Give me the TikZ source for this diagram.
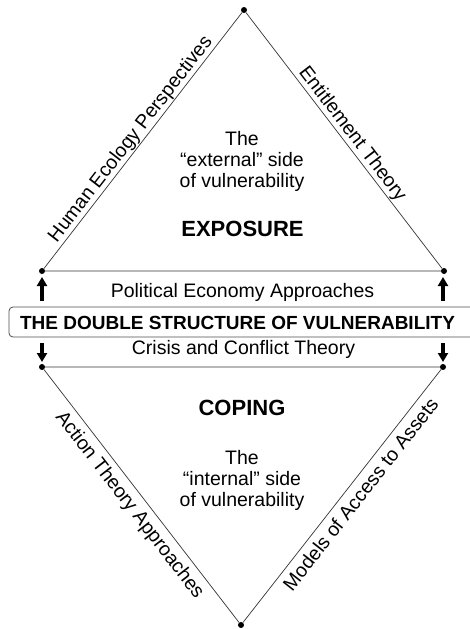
\documentclass[tikz,border=0pt]{standalone}
\usepackage{fontspec}
\setmainfont{Liberation Sans}
\usetikzlibrary{arrows.meta}
\begin{document}
\begin{tikzpicture}[x=1pt,y=-1pt,
  edge/.style={line width=0.7pt, black!80},
  vdot/.style={circle, fill=black, inner sep=0pt, minimum size=6pt},
  lbl/.style={font=\fontsize{19.5}{21}\selectfont, inner sep=0pt},
  body/.style={font=\fontsize{19.5}{21}\selectfont, inner sep=0pt, anchor=base},
  head/.style={font=\fontsize{22}{24}\selectfont\bfseries, inner sep=0pt, anchor=base},
  bigarrow/.style={line width=3.2pt, -{Triangle[width=10pt,length=9pt]}},
]
\useasboundingbox (0,0) rectangle (469,629);
% vertices
\node[vdot] (T)  at (244,10) {};
\node[vdot] (L1) at (42,271) {};
\node[vdot] (R1) at (444,271) {};
\node[vdot] (L2) at (42,367) {};
\node[vdot] (R2) at (443,367) {};
\node[vdot] (B)  at (241,625) {};
% edges
\draw[edge] (L1) -- (T) -- (R1) -- (L1);
\draw[edge] (L2) -- (R2) -- (B) -- (L2);
% edge labels
\path (L1) -- (T) node[lbl, pos=0.48, sloped, above=1pt] (he) {Human Ecology Perspectives};
\path (T) -- (R1) node[lbl, pos=0.5, sloped, above=1pt] (et) {Entitlement Theory};
\path (L2) -- (B) node[lbl, pos=0.5, sloped, below=6pt] (at) {Action Theory Approaches};
\path (B) -- (R2) node[lbl, pos=0.54, sloped, below=6pt] (ma) {Models of Access to Assets};
% central band
\node[draw=black!70, line width=0.8pt, rounded corners=4pt, minimum width=471pt, minimum height=30pt, inner sep=0pt] (box) at (244.5,322) {};
\node[font=\fontsize{19}{21}\selectfont\bfseries, inner sep=0pt, anchor=base] (title) at (237.5,329.5) {THE DOUBLE STRUCTURE OF VULNERABILITY};
\node[body] (pol) at (242.5,297.5) {Political Economy Approaches};
\node[body] (cri) at (243.5,354) {Crisis and Conflict Theory};
% arrows
\coordinate (a1s) at (42,301); \coordinate (a1e) at (42,277);
\coordinate (a2s) at (443,301); \coordinate (a2e) at (443,277);
\coordinate (a3s) at (42,343); \coordinate (a3e) at (42,362);
\coordinate (a4s) at (443,343); \coordinate (a4e) at (443,362);
\draw[bigarrow] (a1s) -- (a1e);
\draw[bigarrow] (a2s) -- (a2e);
\draw[bigarrow] (a3s) -- (a3e);
\draw[bigarrow] (a4s) -- (a4e);
% upper text
\node[body] (ex1) at (242,145) {The};
\node[body] (ex2) at (242,166) {“external” side};
\node[body] (ex3) at (242,187) {of vulnerability};
\node[head] (expo) at (242.5,236) {EXPOSURE};
% lower text
\node[head] (cop) at (242,415) {COPING};
\node[body] (in1) at (242,464) {The};
\node[body] (in2) at (242,485) {“internal” side};
\node[body] (in3) at (242,506) {of vulnerability};
\end{tikzpicture}
\end{document}
